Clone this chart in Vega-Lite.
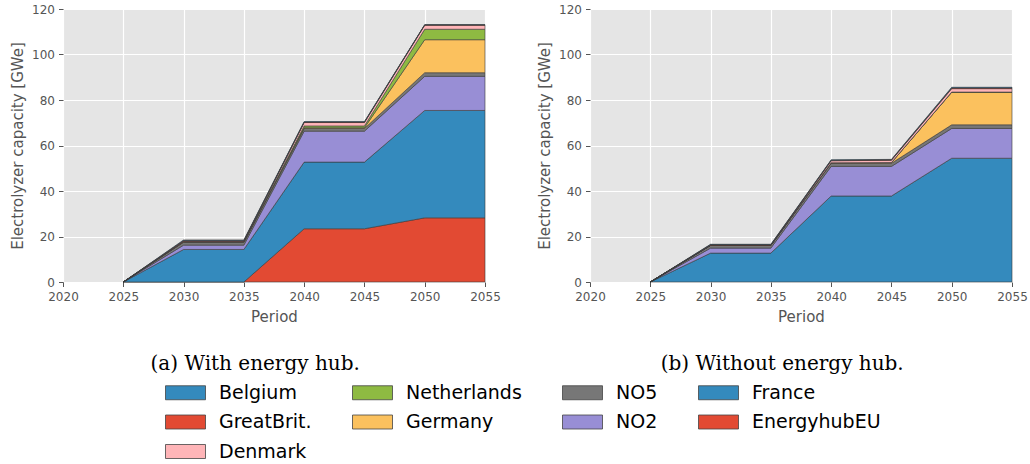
{
  "$schema": "https://vega.github.io/schema/vega-lite/v6.json",
  "background": "white",
  "padding": {"left": 10, "top": 3, "right": 0, "bottom": 0},
  "datasets": {
    "cap": [
      {"panel":"a","series":"EnergyhubEU","stack":1,"year":2025,"value":0},
      {"panel":"a","series":"EnergyhubEU","stack":1,"year":2030,"value":0},
      {"panel":"a","series":"EnergyhubEU","stack":1,"year":2035,"value":0},
      {"panel":"a","series":"EnergyhubEU","stack":1,"year":2040,"value":23.4},
      {"panel":"a","series":"EnergyhubEU","stack":1,"year":2045,"value":23.4},
      {"panel":"a","series":"EnergyhubEU","stack":1,"year":2050,"value":28.2},
      {"panel":"a","series":"EnergyhubEU","stack":1,"year":2055,"value":28.2},
      {"panel":"a","series":"France","stack":2,"year":2025,"value":0},
      {"panel":"a","series":"France","stack":2,"year":2030,"value":14.3},
      {"panel":"a","series":"France","stack":2,"year":2035,"value":14.3},
      {"panel":"a","series":"France","stack":2,"year":2040,"value":29.3},
      {"panel":"a","series":"France","stack":2,"year":2045,"value":29.3},
      {"panel":"a","series":"France","stack":2,"year":2050,"value":47.2},
      {"panel":"a","series":"France","stack":2,"year":2055,"value":47.2},
      {"panel":"a","series":"NO2","stack":3,"year":2025,"value":0},
      {"panel":"a","series":"NO2","stack":3,"year":2030,"value":1.9},
      {"panel":"a","series":"NO2","stack":3,"year":2035,"value":1.9},
      {"panel":"a","series":"NO2","stack":3,"year":2040,"value":13.6},
      {"panel":"a","series":"NO2","stack":3,"year":2045,"value":13.6},
      {"panel":"a","series":"NO2","stack":3,"year":2050,"value":15.0},
      {"panel":"a","series":"NO2","stack":3,"year":2055,"value":15.0},
      {"panel":"a","series":"NO5","stack":4,"year":2025,"value":0},
      {"panel":"a","series":"NO5","stack":4,"year":2030,"value":1.3},
      {"panel":"a","series":"NO5","stack":4,"year":2035,"value":1.3},
      {"panel":"a","series":"NO5","stack":4,"year":2040,"value":1.2},
      {"panel":"a","series":"NO5","stack":4,"year":2045,"value":1.2},
      {"panel":"a","series":"NO5","stack":4,"year":2050,"value":1.6},
      {"panel":"a","series":"NO5","stack":4,"year":2055,"value":1.6},
      {"panel":"a","series":"Germany","stack":5,"year":2025,"value":0},
      {"panel":"a","series":"Germany","stack":5,"year":2030,"value":0.1},
      {"panel":"a","series":"Germany","stack":5,"year":2035,"value":0.1},
      {"panel":"a","series":"Germany","stack":5,"year":2040,"value":0.3},
      {"panel":"a","series":"Germany","stack":5,"year":2045,"value":0.3},
      {"panel":"a","series":"Germany","stack":5,"year":2050,"value":14.5},
      {"panel":"a","series":"Germany","stack":5,"year":2055,"value":14.5},
      {"panel":"a","series":"Netherlands","stack":6,"year":2025,"value":0},
      {"panel":"a","series":"Netherlands","stack":6,"year":2030,"value":0.1},
      {"panel":"a","series":"Netherlands","stack":6,"year":2035,"value":0.1},
      {"panel":"a","series":"Netherlands","stack":6,"year":2040,"value":0.8},
      {"panel":"a","series":"Netherlands","stack":6,"year":2045,"value":0.8},
      {"panel":"a","series":"Netherlands","stack":6,"year":2050,"value":4.6},
      {"panel":"a","series":"Netherlands","stack":6,"year":2055,"value":4.6},
      {"panel":"a","series":"Denmark","stack":7,"year":2025,"value":0},
      {"panel":"a","series":"Denmark","stack":7,"year":2030,"value":0.2},
      {"panel":"a","series":"Denmark","stack":7,"year":2035,"value":0.2},
      {"panel":"a","series":"Denmark","stack":7,"year":2040,"value":1.5},
      {"panel":"a","series":"Denmark","stack":7,"year":2045,"value":1.5},
      {"panel":"a","series":"Denmark","stack":7,"year":2050,"value":1.8},
      {"panel":"a","series":"Denmark","stack":7,"year":2055,"value":1.8},
      {"panel":"a","series":"GreatBrit.","stack":8,"year":2025,"value":0},
      {"panel":"a","series":"GreatBrit.","stack":8,"year":2030,"value":0.3},
      {"panel":"a","series":"GreatBrit.","stack":8,"year":2035,"value":0.3},
      {"panel":"a","series":"GreatBrit.","stack":8,"year":2040,"value":0.2},
      {"panel":"a","series":"GreatBrit.","stack":8,"year":2045,"value":0.2},
      {"panel":"a","series":"GreatBrit.","stack":8,"year":2050,"value":0.1},
      {"panel":"a","series":"GreatBrit.","stack":8,"year":2055,"value":0.1},
      {"panel":"a","series":"Belgium","stack":9,"year":2025,"value":0},
      {"panel":"a","series":"Belgium","stack":9,"year":2030,"value":0.3},
      {"panel":"a","series":"Belgium","stack":9,"year":2035,"value":0.3},
      {"panel":"a","series":"Belgium","stack":9,"year":2040,"value":0.2},
      {"panel":"a","series":"Belgium","stack":9,"year":2045,"value":0.2},
      {"panel":"a","series":"Belgium","stack":9,"year":2050,"value":0.1},
      {"panel":"a","series":"Belgium","stack":9,"year":2055,"value":0.1},

      {"panel":"b","series":"France","stack":2,"year":2025,"value":0},
      {"panel":"b","series":"France","stack":2,"year":2030,"value":12.7},
      {"panel":"b","series":"France","stack":2,"year":2035,"value":12.7},
      {"panel":"b","series":"France","stack":2,"year":2040,"value":37.8},
      {"panel":"b","series":"France","stack":2,"year":2045,"value":37.8},
      {"panel":"b","series":"France","stack":2,"year":2050,"value":54.4},
      {"panel":"b","series":"France","stack":2,"year":2055,"value":54.4},
      {"panel":"b","series":"NO2","stack":3,"year":2025,"value":0},
      {"panel":"b","series":"NO2","stack":3,"year":2030,"value":2.2},
      {"panel":"b","series":"NO2","stack":3,"year":2035,"value":2.2},
      {"panel":"b","series":"NO2","stack":3,"year":2040,"value":13.0},
      {"panel":"b","series":"NO2","stack":3,"year":2045,"value":13.0},
      {"panel":"b","series":"NO2","stack":3,"year":2050,"value":13.1},
      {"panel":"b","series":"NO2","stack":3,"year":2055,"value":13.1},
      {"panel":"b","series":"NO5","stack":4,"year":2025,"value":0},
      {"panel":"b","series":"NO5","stack":4,"year":2030,"value":1.2},
      {"panel":"b","series":"NO5","stack":4,"year":2035,"value":1.2},
      {"panel":"b","series":"NO5","stack":4,"year":2040,"value":1.4},
      {"panel":"b","series":"NO5","stack":4,"year":2045,"value":1.4},
      {"panel":"b","series":"NO5","stack":4,"year":2050,"value":1.6},
      {"panel":"b","series":"NO5","stack":4,"year":2055,"value":1.6},
      {"panel":"b","series":"Germany","stack":5,"year":2025,"value":0},
      {"panel":"b","series":"Germany","stack":5,"year":2030,"value":0},
      {"panel":"b","series":"Germany","stack":5,"year":2035,"value":0},
      {"panel":"b","series":"Germany","stack":5,"year":2040,"value":0.2},
      {"panel":"b","series":"Germany","stack":5,"year":2045,"value":0.3},
      {"panel":"b","series":"Germany","stack":5,"year":2050,"value":14.3},
      {"panel":"b","series":"Germany","stack":5,"year":2055,"value":14.3},
      {"panel":"b","series":"Netherlands","stack":6,"year":2025,"value":0},
      {"panel":"b","series":"Netherlands","stack":6,"year":2030,"value":0},
      {"panel":"b","series":"Netherlands","stack":6,"year":2035,"value":0},
      {"panel":"b","series":"Netherlands","stack":6,"year":2040,"value":0},
      {"panel":"b","series":"Netherlands","stack":6,"year":2045,"value":0},
      {"panel":"b","series":"Netherlands","stack":6,"year":2050,"value":0.1},
      {"panel":"b","series":"Netherlands","stack":6,"year":2055,"value":0.1},
      {"panel":"b","series":"Denmark","stack":7,"year":2025,"value":0},
      {"panel":"b","series":"Denmark","stack":7,"year":2030,"value":0.1},
      {"panel":"b","series":"Denmark","stack":7,"year":2035,"value":0.1},
      {"panel":"b","series":"Denmark","stack":7,"year":2040,"value":0.9},
      {"panel":"b","series":"Denmark","stack":7,"year":2045,"value":1.0},
      {"panel":"b","series":"Denmark","stack":7,"year":2050,"value":1.5},
      {"panel":"b","series":"Denmark","stack":7,"year":2055,"value":1.5},
      {"panel":"b","series":"GreatBrit.","stack":8,"year":2025,"value":0},
      {"panel":"b","series":"GreatBrit.","stack":8,"year":2030,"value":0.2},
      {"panel":"b","series":"GreatBrit.","stack":8,"year":2035,"value":0.2},
      {"panel":"b","series":"GreatBrit.","stack":8,"year":2040,"value":0.2},
      {"panel":"b","series":"GreatBrit.","stack":8,"year":2045,"value":0.2},
      {"panel":"b","series":"GreatBrit.","stack":8,"year":2050,"value":0.3},
      {"panel":"b","series":"GreatBrit.","stack":8,"year":2055,"value":0.3},
      {"panel":"b","series":"Belgium","stack":9,"year":2025,"value":0},
      {"panel":"b","series":"Belgium","stack":9,"year":2030,"value":0.2},
      {"panel":"b","series":"Belgium","stack":9,"year":2035,"value":0.2},
      {"panel":"b","series":"Belgium","stack":9,"year":2040,"value":0.2},
      {"panel":"b","series":"Belgium","stack":9,"year":2045,"value":0.2},
      {"panel":"b","series":"Belgium","stack":9,"year":2050,"value":0.3},
      {"panel":"b","series":"Belgium","stack":9,"year":2055,"value":0.3}
    ]
  },
  "data": {"name": "cap"},
  "spacing": 36,
  "hconcat": [
    {
      "width": 422,
      "height": 273,
      "title": {"text": "(a) With energy hub.", "orient": "bottom", "anchor": "middle", "frame": "bounds", "offset": 29},
      "transform": [{"filter": "datum.panel == 'a'"}],
      "mark": {"type": "area", "stroke": "#3a3a3a", "strokeWidth": 0.6, "opacity": 1},
      "encoding": {
        "x": {"field": "year", "type": "quantitative", "scale": {"domain": [2020, 2055], "nice": false, "zero": false},
              "axis": {"values": [2020, 2025, 2030, 2035, 2040, 2045, 2050, 2055], "format": "d", "title": "Period"}},
        "y": {"field": "value", "type": "quantitative", "stack": "zero", "scale": {"domain": [0, 120], "nice": false},
              "axis": {"values": [0, 20, 40, 60, 80, 100, 120], "title": "Electrolyzer capacity [GWe]"}},
        "color": {"field": "series", "type": "nominal",
                  "scale": {"domain": ["Belgium", "Netherlands", "NO5", "France", "GreatBrit.", "Germany", "NO2", "EnergyhubEU", "Denmark"],
                            "range": ["#348ABD", "#8EBA42", "#777777", "#348ABD", "#E24A33", "#FBC15E", "#988ED5", "#E24A33", "#FFB5B8"]}},
        "order": {"field": "stack", "type": "quantitative", "sort": "ascending"}
      }
    },
    {
      "width": 422,
      "height": 273,
      "title": {"text": "(b) Without energy hub.", "orient": "bottom", "anchor": "middle", "frame": "bounds", "offset": 29},
      "transform": [{"filter": "datum.panel == 'b'"}],
      "mark": {"type": "area", "stroke": "#3a3a3a", "strokeWidth": 0.6, "opacity": 1},
      "encoding": {
        "x": {"field": "year", "type": "quantitative", "scale": {"domain": [2020, 2055], "nice": false, "zero": false},
              "axis": {"values": [2020, 2025, 2030, 2035, 2040, 2045, 2050, 2055], "format": "d", "title": "Period"}},
        "y": {"field": "value", "type": "quantitative", "stack": "zero", "scale": {"domain": [0, 120], "nice": false},
              "axis": {"values": [0, 20, 40, 60, 80, 100, 120], "title": "Electrolyzer capacity [GWe]"}},
        "color": {"field": "series", "type": "nominal",
                  "scale": {"domain": ["Belgium", "Netherlands", "NO5", "France", "GreatBrit.", "Germany", "NO2", "EnergyhubEU", "Denmark"],
                            "range": ["#348ABD", "#8EBA42", "#777777", "#348ABD", "#E24A33", "#FBC15E", "#988ED5", "#E24A33", "#FFB5B8"]}},
        "order": {"field": "stack", "type": "quantitative", "sort": "ascending"}
      }
    }
  ],
  "config": {
    "view": {"fill": "#E5E5E5", "stroke": null},
    "axis": {
      "grid": true, "gridColor": "#FFFFFF", "gridWidth": 1.2, "domain": false,
      "tickColor": "#555555", "tickSize": 4.5, "labelPadding": 4, "labelFlush": false,
      "labelFont": "DejaVu Sans", "labelFontSize": 12, "labelColor": "#555555",
      "titleFont": "DejaVu Sans", "titleFontSize": 15, "titleColor": "#555555", "titleFontWeight": "normal"
    },
    "axisX": {"labelPadding": 5, "titlePadding": 7},
    "axisY": {"titlePadding": 6.5},
    "title": {"font": "DejaVu Serif", "fontSize": 20, "fontWeight": "normal", "color": "#000000"},
    "legend": {
      "orient": "none", "legendX": 112, "legendY": 373, "columns": 4, "direction": "horizontal", "title": null,
      "symbolType": "M-2,-0.7H2V0.7H-2Z", "symbolSize": 400, "symbolStrokeColor": "#444444", "symbolStrokeWidth": 0.8,
      "symbolOpacity": 1, "labelFont": "DejaVu Sans", "labelFontSize": 19, "labelColor": "#000000",
      "rowPadding": 8.5, "columnPadding": 38, "labelOffset": 23
    }
  }
}
